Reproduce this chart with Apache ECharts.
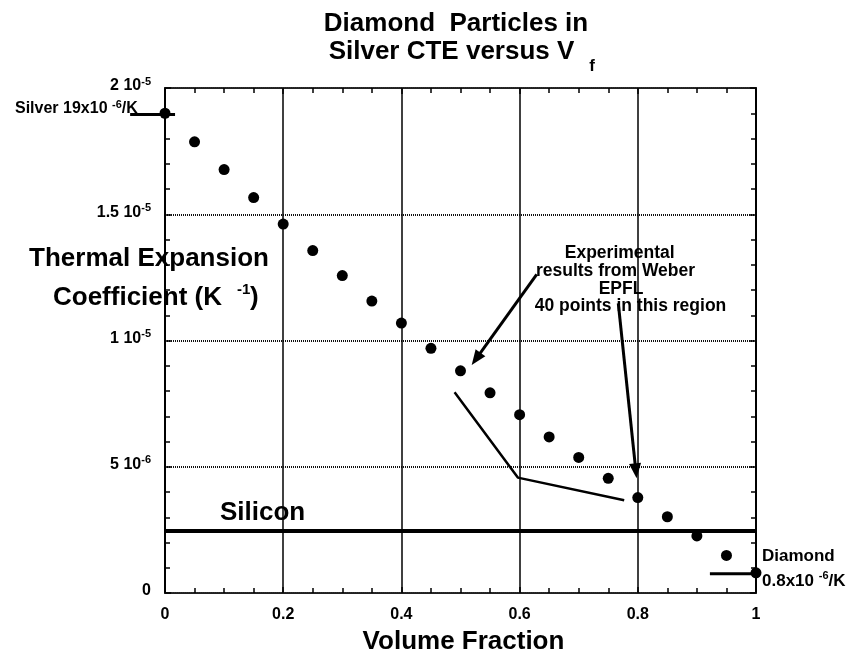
<!DOCTYPE html>
<html><head><meta charset="utf-8">
<script src="https://cdn.jsdelivr.net/npm/echarts@6/dist/echarts.min.js"></script>
<style>html,body{margin:0;padding:0;background:#fff}#c{width:846px;height:654px}</style>
</head><body><div id="c"></div>
<script>
// Volume fraction of diamond and CTE (units of 1e-6 /K)
const volumeFraction = [0,0.05,0.1,0.15,0.2,0.25,0.3,0.35,0.4,0.45,0.5,0.55,0.6,0.65,0.7,0.75,0.8,0.85,0.9,0.95,1.0];
const cteModel = [19.0,17.87,16.77,15.66,14.61,13.56,12.57,11.56,10.69,9.69,8.80,7.93,7.06,6.18,5.37,4.54,3.78,3.02,2.26,1.49,0.80];
const siliconCTE = [[0,2.46],[1,2.46]];
const silverMarker = [[-0.059,18.95],[0.017,18.95]];
const diamondMarker = [[0.922,0.76],[1.0,0.76]];
const experimentalBand = [[0.49,7.95],[0.597,4.57],[0.777,3.67]];
const arrowA = [[0.629,12.62],[0.519,9.03]];
const arrowB = [[0.767,11.47],[0.798,4.54]];
const xTicks = [0,0.2,0.4,0.6,0.8,1];
const xTickLabels = ['0','0.2','0.4','0.6','0.8','1'];
const yTicks = [0,5,10,15,20];
const yTickMain = ['0','5 10','1 10','1.5 10','2 10'];
const yTickExp = ['','-6','-5','-5','-5'];

const FONT = "'Liberation Sans', Arial, Helvetica, sans-serif";
const chart = echarts.init(document.getElementById('c'));

function idx(arr, v){ for(let i=0;i<arr.length;i++){ if(Math.abs(arr[i]-v)<1e-6) return i; } return -1; }
function txt(x,y,text,size,align){
  return {type:'text', x:x, y:y, z:100, style:{text:text, fill:'#000', fontSize:size, fontWeight:'bold', fontFamily:FONT, align:align||'left', verticalAlign:'middle'}};
}
function supTxt(x,y,text,size,supSize,align){
  return {type:'text', x:x, y:y, z:100, style:{text:text, fill:'#000', fontSize:size, fontWeight:'bold', fontFamily:FONT, align:align||'left', verticalAlign:'middle',
    rich:{m:{fontSize:size, fontWeight:'bold', fontFamily:FONT, lineHeight:size+4, fill:'#000'},
          s:{fontSize:supSize, fontWeight:'bold', fontFamily:FONT, verticalAlign:'top', fill:'#000'}}}};
}

const option = {
  animation:false,
  backgroundColor:'#fff',
  grid:{left:165, right:90, top:88, bottom:61},
  xAxis:[{
    type:'value', min:0, max:1, interval:0.2, position:'bottom',
    axisLine:{show:true, onZero:false, lineStyle:{color:'#222', width:2, type:[1,1]}},
    axisTick:{show:true, inside:true, length:6, lineStyle:{color:'#000', width:1.5}},
    minorTick:{show:true, splitNumber:4, length:5, lineStyle:{color:'#000', width:1.5}},
    splitLine:{show:true, lineStyle:{color:'#000', width:1.5}},
    axisLabel:{margin:14, fontSize:16, fontWeight:'bold', fontFamily:FONT, color:'#000',
      formatter:function(v){ const i=idx(xTicks,v); return i>=0?xTickLabels[i]:''; }}
  },{
    type:'value', min:0, max:1, interval:0.2, position:'top',
    axisLine:{show:true, onZero:false, lineStyle:{color:'#222', width:2, type:[1,1]}},
    axisTick:{show:true, inside:true, length:6, lineStyle:{color:'#000', width:1.5}},
    minorTick:{show:true, splitNumber:4, length:5, lineStyle:{color:'#000', width:1.5}},
    splitLine:{show:false}, axisLabel:{show:false}
  }],
  yAxis:[{
    type:'value', min:0, max:20, interval:5, position:'left',
    axisLine:{show:true, onZero:false, lineStyle:{color:'#000', width:2}},
    axisTick:{show:true, inside:true, length:6, lineStyle:{color:'#000', width:1.5}},
    minorTick:{show:true, splitNumber:5, length:5, lineStyle:{color:'#000', width:1.5}},
    splitLine:{show:true, lineStyle:{color:'#111', width:2, type:[1,1]}},
    axisLabel:{margin:14, padding:[0,0,4,0], fontSize:16, fontWeight:'bold', fontFamily:FONT, color:'#000',
      formatter:function(v){ const i=idx(yTicks,v); if(i<0) return ''; return yTickExp[i]?('{m|'+yTickMain[i]+'}{s|'+yTickExp[i]+'}'):('{m|'+yTickMain[i]+'}'); },
      rich:{m:{fontSize:16, fontWeight:'bold', fontFamily:FONT, color:'#000', lineHeight:20},
            s:{fontSize:11, fontWeight:'bold', fontFamily:FONT, color:'#000', verticalAlign:'top'}}}
  },{
    type:'value', min:0, max:20, interval:5, position:'right',
    axisLine:{show:true, onZero:false, lineStyle:{color:'#000', width:2}},
    axisTick:{show:true, inside:true, length:6, lineStyle:{color:'#000', width:1.5}},
    minorTick:{show:true, splitNumber:5, length:5, lineStyle:{color:'#000', width:1.5}},
    splitLine:{show:false}, axisLabel:{show:false}
  }],
  series:[
    {type:'line', data:siliconCTE, symbol:'none', lineStyle:{color:'#000', width:4}, z:3, silent:true},
    {type:'line', data:diamondMarker, symbol:'none', clip:false, lineStyle:{color:'#000', width:3}, z:3, silent:true},
    {type:'line', data:experimentalBand, symbol:'none', lineStyle:{color:'#000', width:2.5}, z:3, silent:true},
    {type:'scatter', data:volumeFraction.map(function(x,i){return [x,cteModel[i]];}), symbol:'circle', symbolSize:11,
      itemStyle:{color:'#000', opacity:1}, z:5, clip:false, silent:true}
  ]
};
chart.setOption(option);

// Annotation lines/arrows drawn via the chart's own scales
function px(p){ return chart.convertToPixel({gridIndex:0}, p); }
function arrow(pts){
  const a = px(pts[0]), b = px(pts[1]);
  const dx = b[0]-a[0], dy = b[1]-a[1], L = Math.sqrt(dx*dx+dy*dy);
  const ux = dx/L, uy = dy/L, head = 15, hw = 6;
  const bx = b[0]-ux*head, by = b[1]-uy*head;
  return [
    {type:'polyline', z:50, shape:{points:[a,[bx+ux*2,by+uy*2]]}, style:{stroke:'#000', lineWidth:3, fill:null}},
    {type:'polygon', z:50, shape:{points:[b,[bx-uy*hw,by+ux*hw],[bx+uy*hw,by-ux*hw]]}, style:{fill:'#000'}}
  ];
}
const sm = silverMarker.map(px);
const graphics = [
  {type:'polyline', z:50, shape:{points:sm}, style:{stroke:'#000', lineWidth:3, fill:null}}
].concat(arrow(arrowA), arrow(arrowB), [
  txt(456,24,'Diamond  Particles in',26,'center'),
  txt(451.5,51.5,'Silver CTE versus V',26,'center'),
  txt(592,66,'f',17,'center'),
  txt(149,259,'Thermal Expansion',26,'center'),
  txt(53,297.5,'Coefficient (K',26,'left'),
  txt(237,290,'-1',15,'left'),
  txt(250,297.5,')',26,'left'),
  txt(463.5,642,'Volume Fraction',26,'center'),
  txt(220,512.5,'Silicon',26,'left'),
  supTxt(15,109,'{m|Silver 19x10 }{s|-6}{m|/K}',16,11,'left'),
  txt(762,556,'Diamond',17,'left'),
  supTxt(762,581,'{m|0.8x10 }{s|-6}{m|/K}',17,11,'left'),
  txt(619.7,253,'Experimental',17.5,'center'),
  txt(615.5,271,'results from Weber',17.5,'center'),
  txt(621,289.5,'EPFL',17.5,'center'),
  txt(630.5,306,'40 points in this region',17.5,'center')
]);
chart.setOption({graphic:graphics});
</script>
</body></html>
